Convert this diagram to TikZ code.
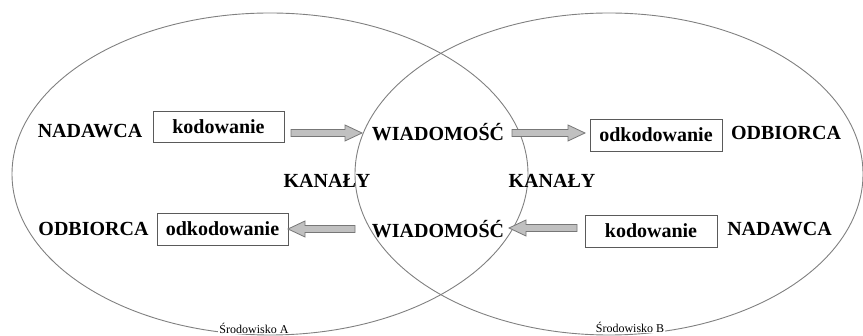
\documentclass[tikz,border=0pt]{standalone}
\usepackage{fontspec}
\setmainfont{Liberation Serif}
\usetikzlibrary{calc}
\definecolor{ringgray}{HTML}{808080}
\definecolor{boxgray}{HTML}{5A5A5A}
\definecolor{arrowfill}{HTML}{C0C0C0}
\definecolor{arrowline}{HTML}{777777}
\tikzset{
  lbl/.style={font=\fontsize{20}{22}\selectfont\bfseries, inner sep=0pt},
  codebox/.style={draw=boxgray, line width=0.9pt, fill=white, minimum width=131pt, minimum height=31pt, inner sep=0pt, font=\fontsize{20}{22}\selectfont\bfseries},
  ring/.style={draw=ringgray, line width=0.9pt},
  envlbl/.style={font=\fontsize{12}{14}\selectfont, fill=white, inner sep=1pt},
  fatarrow/.style={draw=arrowline, fill=arrowfill, line width=0.8pt, line join=miter},
}
\newcommand{\blockarrow}[2]{%
  \path[fatarrow] let \p1=(#1), \p2=(#2), \n1={ifthenelse(\x2>\x1,1,-1)} in
    (\x1,\y1+3.5pt) -- (\x2-\n1*17pt,\y1+3.5pt) -- (\x2-\n1*17pt,\y1+8pt)
    -- (\x2,\y1) -- (\x2-\n1*17pt,\y1-8pt) -- (\x2-\n1*17pt,\y1-3.5pt)
    -- (\x1,\y1-3.5pt) -- cycle;}
\begin{document}
\begin{tikzpicture}[x=1pt, y=-1pt]
\useasboundingbox (0,0) rectangle (863,336);
% environments
\draw[ring] (270,174) ellipse [x radius=258, y radius=161];
\draw[ring] (609,174) ellipse [x radius=254, y radius=161];
\node[envlbl] (envA) at (254,328) {Środowisko A};
\node[envlbl] (envB) at (630,327) {Środowisko B};
% top row
\node[lbl] (nadA) at (90,131) {NADAWCA};
\node[codebox] (kodA) at (218.5,126.5) {kodowanie};
\node[lbl] (wiad1) at (438,132) {WIADOMOŚĆ};
\node[codebox, minimum width=132pt, minimum height=32pt] (odkB) at (656,135) {odkodowanie};
\node[lbl] (odbB) at (786,133) {ODBIORCA};
% middle
\node[lbl] (kanA) at (327,181) {KANAŁY};
\node[lbl] (kanB) at (552,181) {KANAŁY};
% bottom row
\node[lbl] (odbA) at (93.5,229) {ODBIORCA};
\node[codebox, minimum height=32pt] (odkA) at (222.5,229) {odkodowanie};
\node[lbl] (wiad2) at (438,229) {WIADOMOŚĆ};
\node[codebox, minimum width=132pt, minimum height=32pt] (kodB) at (651,231) {kodowanie};
\node[lbl] (nadB) at (779.5,229) {NADAWCA};
% arrow ends
\coordinate (a1s) at (291,133);
\coordinate (a1e) at (362,133);
\coordinate (a2s) at (512,133);
\coordinate (a2e) at (585,133);
\coordinate (a3s) at (355,229);
\coordinate (a3e) at (288,229);
\coordinate (a4s) at (577,228);
\coordinate (a4e) at (509,228);
\blockarrow{a1s}{a1e}
\blockarrow{a2s}{a2e}
\blockarrow{a3s}{a3e}
\blockarrow{a4s}{a4e}
\end{tikzpicture}
\end{document}
